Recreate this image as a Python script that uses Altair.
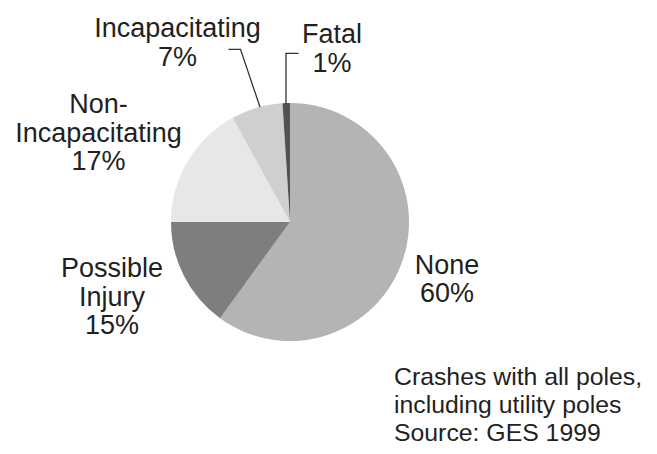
import altair as alt
import pandas as pd

# Data
categories = ["None", "Possible Injury", "Non-Incapacitating", "Incapacitating", "Fatal"]
label_lines = [["None"], ["Possible", "Injury"], ["Non-", "Incapacitating"], ["Incapacitating"], ["Fatal"]]
percents = [60, 15, 17, 7, 1]
colors = ["#b3b4b6", "#7d7e80", "#e6e7e8", "#cecfd1", "#525254"]
note_lines = ["Crashes with all poles,", "including utility poles", "Source: GES 1999"]

# Layout (pixel positions inside the chart area)
CX, CY, R = 282, 214, 119
label_pos = {
    "None": (439, 265.5),
    "Possible Injury": (104, 269),
    "Non-Incapacitating": (90.5, 105),
    "Incapacitating": (169.5, 29),
    "Fatal": (324, 35),
}
FONT = "Liberation Sans"

pie_df = pd.DataFrame({
    "category": categories,
    "value": percents,
    "order": list(range(len(categories))),
})

pie = alt.Chart(pie_df).mark_arc(radius=R, stroke=None).encode(
    theta=alt.Theta("value:Q", stack=True),
    order=alt.Order("order:Q"),
    color=alt.Color("category:N", scale=alt.Scale(domain=categories, range=colors), legend=None),
    x=alt.value(CX),
    y=alt.value(CY),
)

lab_df = pd.DataFrame({
    "text": ["\n".join(lines + [f"{p}%"]) for lines, p in zip(label_lines, percents)],
    "x": [label_pos[c][0] for c in categories],
    "y": [label_pos[c][1] for c in categories],
})

labels = alt.Chart(lab_df).mark_text(
    font=FONT, fontSize=27, color="#231f20", align="center", baseline="alphabetic",
    lineBreak="\n", lineHeight=28.5,
).encode(
    x=alt.X("x:Q", scale=None),
    y=alt.Y("y:Q", scale=None),
    text="text:N",
)

note_df = pd.DataFrame({"text": ["\n".join(note_lines)], "x": [386], "y": [377]})
note = alt.Chart(note_df).mark_text(
    font=FONT, fontSize=24.8, color="#231f20", align="left", baseline="alphabetic",
    lineBreak="\n", lineHeight=27.8,
).encode(
    x=alt.X("x:Q", scale=None),
    y=alt.Y("y:Q", scale=None),
    text="text:N",
)

leader_df = pd.DataFrame({
    "leader": ["inc", "inc", "inc", "fat", "fat", "fat"],
    "i": [0, 1, 2, 0, 1, 2],
    "x": [220.5, 232.5, 252, 290.5, 278, 278],
    "y": [41.3, 41.3, 99, 45.3, 45.3, 96],
})
leaders = alt.Chart(leader_df).mark_line(color="#333333", strokeWidth=1.3).encode(
    x=alt.X("x:Q", scale=None),
    y=alt.Y("y:Q", scale=None),
    detail="leader:N",
    order="i:Q",
)

chart = alt.layer(pie, leaders, labels, note).properties(
    width=641, height=438, padding=0, autosize=alt.AutoSizeParams(type="none"),
    background="white",
).configure_view(stroke=None)

chart.save("out.html", embed_options={"renderer": "svg", "actions": False})
